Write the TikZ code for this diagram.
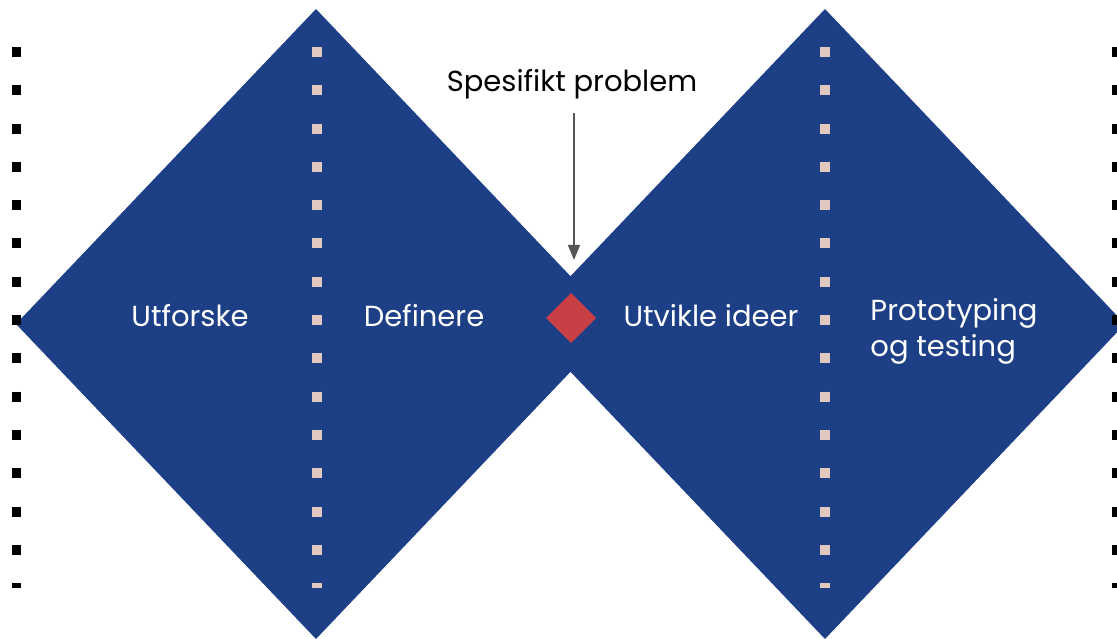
\documentclass[tikz,border=0pt]{standalone}
\usepackage{fontspec}
\setmainfont{Poppins}
\definecolor{navy}{HTML}{1C3F86}
\definecolor{beige}{HTML}{E2C9C0}
\definecolor{redd}{HTML}{C84046}
\definecolor{arrowgray}{HTML}{555555}
\usetikzlibrary{arrows.meta}
\tikzset{
  bigdiamond/.style={fill=navy, draw=none},
  dotline/.style={line width=10pt, dash pattern=on 10pt off 28.3pt},
  phase/.style={text=white, font=\fontsize{29}{36}\selectfont, inner sep=0pt},
  callout/.style={text=black, font=\fontsize{29}{36}\selectfont, inner sep=0pt},
  pointer/.style={draw=arrowgray, line width=1.5pt, -{Triangle[length=15pt,width=12pt]}}
}
\begin{document}
\begin{tikzpicture}[x=1pt,y=-1pt]
\useasboundingbox (0,0) rectangle (1117,639);
\clip (0,0) rectangle (1117,639);
% diamonds
\fill[bigdiamond] (16,324) -- (316,9) -- (616,324) -- (316,639) -- cycle;
\fill[bigdiamond] (525,324) -- (825,9) -- (1125,324) -- (825,639) -- cycle;
% dotted lines
\draw[dotline, black, line width=9pt] (16.5,47) -- (16.5,588);
\draw[dotline, beige] (317,47) -- (317,588);
\draw[dotline, beige] (825,47) -- (825,588);
\draw[dotline, black] (1117,47) -- (1117,588);
% red diamond
\fill[redd] (571,293) -- (596,318) -- (571,343) -- (546,318) -- cycle;
% labels
\node[phase] (utf) at (190,316) {Utforske};
\node[phase] (def) at (424,316) {Definere};
\node[phase] (utv) at (711,316) {Utvikle ideer};
\node[phase, align=left] (pro) at (954,331) {Prototyping\\og testing};
\node[callout] (spes) at (572,84) {Spesifikt problem};
\coordinate (notch) at (574,260);
\draw[pointer] (574,113) -- (notch);
\end{tikzpicture}
\end{document}
